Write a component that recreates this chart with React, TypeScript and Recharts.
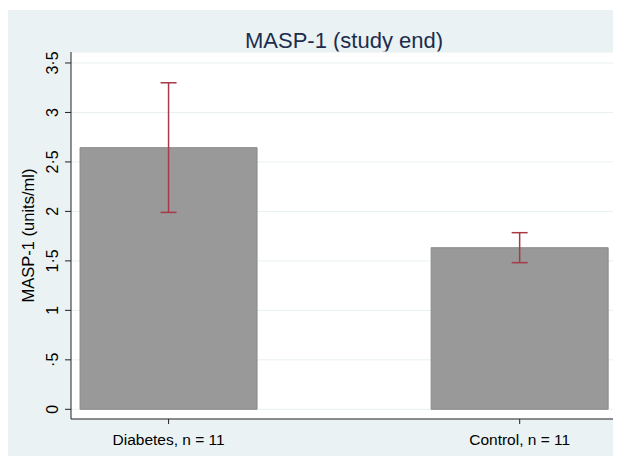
import { BarChart, Bar, XAxis, YAxis, CartesianGrid, ErrorBar } from 'recharts';

const groups = ['Diabetes, n = 11', 'Control, n = 11'];
const means = [2.644, 1.633];
const lowerCI = [1.99, 1.482];
const upperCI = [3.30, 1.785];
const yTicks = [0, 0.5, 1, 1.5, 2, 2.5, 3, 3.5];

const data = groups.map((name, i) => ({
  x: i,
  name,
  mean: means[i],
  err: [means[i] - lowerCI[i], upperCI[i] - means[i]],
}));

const font = '"Liberation Sans", Arial, Helvetica, sans-serif';

// stata-style decimals: ".5", "1·5"
const fmtY = (v: number) => {
  if (v === 0) return '0';
  const s = String(v).replace('.', '·');
  return s.startsWith('0·') ? s.slice(1) : s;
};

const YTick = ({ x, y, payload }: any) => (
  <text
    transform={`translate(${x - 5}, ${y}) rotate(-90)`}
    textAnchor="middle"
    fontSize={16}
    fontFamily={font}
    fill="#000"
  >
    {fmtY(payload.value)}
  </text>
);

const XTick = ({ x, y, payload }: any) => (
  <text x={x} y={y + 19} textAnchor="middle" fontSize={15.5} fontFamily={font} fill="#000">
    {groups[payload.value]}
  </text>
);

const YLabel = ({ viewBox }: any) => (
  <text
    transform={`translate(26, ${viewBox.y + viewBox.height / 2}) rotate(-90)`}
    textAnchor="middle"
    fontSize={16.5}
    fontFamily={font}
    fill="#000"
  >
    MASP-1 (units/ml)
  </text>
);

export default function App() {
  return (
    <div style={{ position: 'relative', top: 2, width: 613, height: 448, background: '#eaf2f3' }}>
      <div
        style={{
          position: 'absolute',
          left: 62,
          width: 548,
          top: 19,
          textAlign: 'center',
          fontFamily: font,
          fontSize: 22,
          color: '#1c2d4e',
          lineHeight: '24px',
        }}
      >
        MASP-1 (study end)
      </div>
      <BarChart
        width={613}
        height={448}
        data={data}
        margin={{ top: 42, right: 3, left: 0, bottom: 9 }}
        style={{ position: 'absolute', left: 0, top: 0 }}
      >
        <CartesianGrid vertical={false} stroke="#e8f0f2" fill="#ffffff" />
        <XAxis
          type="number"
          dataKey="x"
          domain={[-0.278, 1.28]}
          ticks={[0, 1]}
          allowDataOverflow
          height={30}
          tickSize={5}
          stroke="#222"
          tick={<XTick />}
        />
        <YAxis
          domain={[-0.098, 3.611]}
          ticks={yTicks}
          allowDataOverflow
          width={63}
          tickSize={6}
          stroke="#222"
          tick={<YTick />}
          label={<YLabel />}
        />
        <Bar dataKey="mean" fill="#999999" stroke="#8a8a8a" barSize={177} isAnimationActive={false}>
          <ErrorBar dataKey="err" width={8} stroke="#a63a47" strokeWidth={1.5} isAnimationActive={false} />
        </Bar>
      </BarChart>
    </div>
  );
}
